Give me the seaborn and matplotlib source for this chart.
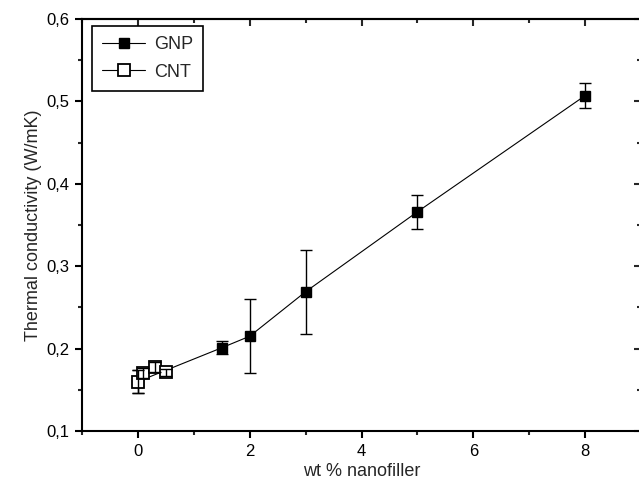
import matplotlib
matplotlib.use("Agg")
import matplotlib.pyplot as plt
import seaborn as sns
import pandas as pd

# ---- data ----
gnp_x = [0, 1.5, 2, 3, 5, 8]
gnp_y = [0.160, 0.201, 0.215, 0.269, 0.366, 0.507]
gnp_err = [0.014, 0.008, 0.045, 0.051, 0.021, 0.015]

cnt_x = [0, 0.1, 0.3, 0.5]
cnt_y = [0.160, 0.170, 0.178, 0.171]
cnt_err = [0.014, 0.006, 0.006, 0.004]

x_major = [0, 2, 4, 6, 8]
x_minor = [-1, 1, 3, 5, 7, 9]
x_labels = ["0", "2", "4", "6", "8"]
y_major = [0.1, 0.2, 0.3, 0.4, 0.5, 0.6]
y_minor = [0.15, 0.25, 0.35, 0.45, 0.55]
y_labels = ["0,1", "0,2", "0,3", "0,4", "0,5", "0,6"]

x_title = "wt % nanofiller"
y_title = "Thermal conductivity (W/mK)"

sns.set_style("ticks")
plt.rcParams["font.family"] = ["Liberation Sans", "DejaVu Sans"]

fig = plt.figure(figsize=(6.39, 4.92), dpi=100)
ax = fig.add_axes([82 / 639, 1 - 431 / 492, (641 - 82) / 639, (431 - 19) / 492])

gnp_df = pd.DataFrame({"x": gnp_x, "y": gnp_y})
cnt_df = pd.DataFrame({"x": cnt_x, "y": cnt_y})

sns.lineplot(data=gnp_df, x="x", y="y", ax=ax, color="black", linewidth=0.8,
             marker="s", markersize=7.5, markeredgecolor="black",
             markeredgewidth=1, label="GNP", zorder=3)
ax.errorbar(gnp_x, gnp_y, yerr=gnp_err, fmt="none", ecolor="black",
            elinewidth=1, capsize=4, capthick=1, zorder=2)

sns.lineplot(data=cnt_df, x="x", y="y", ax=ax, color="black", linewidth=0.8,
             marker="s", markersize=8, markerfacecolor="white",
             markeredgecolor="black", markeredgewidth=1.3, label="CNT", zorder=4)
ax.errorbar(cnt_x, cnt_y, yerr=cnt_err, fmt="none", ecolor="black",
            elinewidth=1, capsize=4, capthick=1, zorder=5)

ax.set_xlim(-1, 9)
ax.set_ylim(0.1, 0.6)
ax.set_xticks(x_major)
ax.set_xticklabels(x_labels)
ax.set_xticks(x_minor, minor=True)
ax.set_yticks(y_major)
ax.set_yticklabels(y_labels)
ax.set_yticks(y_minor, minor=True)

for s in ax.spines.values():
    s.set_linewidth(1.5)
    s.set_color("black")

ax.tick_params(which="major", direction="out", length=5, width=1.5,
               labelsize=12, colors="black", pad=4)
ax.tick_params(which="minor", direction="out", length=3, width=1.5)

ax.set_xlabel(x_title, fontsize=13, labelpad=3)
ax.set_ylabel(y_title, fontsize=13, labelpad=3)

# mirrored inward ticks on top and right
top = ax.secondary_xaxis("top")
top.set_xticks(x_major)
top.set_xticks(x_minor, minor=True)
top.tick_params(which="major", direction="in", length=5, width=1.5, labeltop=False)
top.tick_params(which="minor", direction="in", length=3, width=1.5)
top.spines["top"].set_linewidth(1.5)

right = ax.secondary_yaxis("right")
right.set_yticks(y_major)
right.set_yticks(y_minor, minor=True)
right.tick_params(which="major", direction="in", length=5, width=1.5, labelright=False)
right.tick_params(which="minor", direction="in", length=3, width=1.5)
right.spines["right"].set_linewidth(1.5)

leg = ax.legend(loc="upper left", bbox_to_anchor=(10 / 559, 1 - 7 / 412),
                borderaxespad=0, fontsize=13, frameon=True, fancybox=False,
                edgecolor="black", handlelength=2.4, handletextpad=0.5,
                labelspacing=0.6, borderpad=0.55, framealpha=1)
leg.get_frame().set_linewidth(1.2)

fig.savefig("out.png", dpi=100)
